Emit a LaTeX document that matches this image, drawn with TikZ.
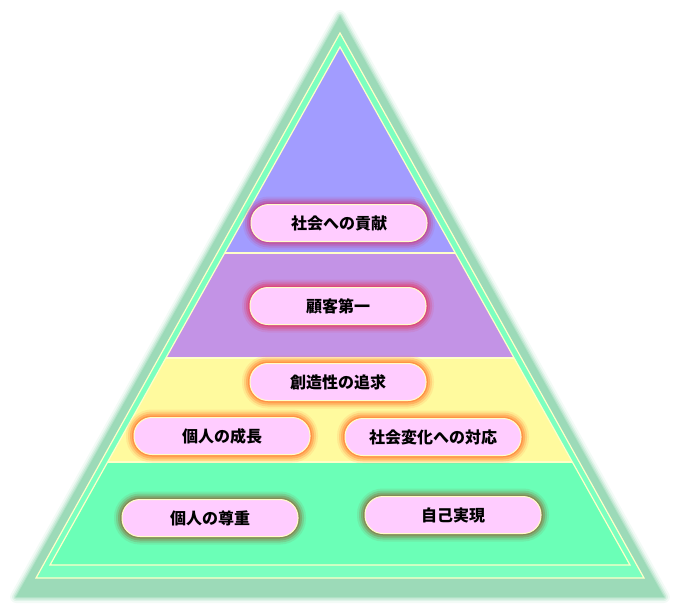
\documentclass[tikz,border=0pt]{standalone}
\usepackage{fontspec}
\newfontfamily\jp{Noto Sans CJK JP}
\definecolor{outerc}{HTML}{9CDAB8}
\definecolor{lightg}{HTML}{7CFFC0}
\definecolor{cream}{HTML}{FFFFC8}
\definecolor{layA}{HTML}{A29CFF}
\definecolor{layB}{HTML}{C393E6}
\definecolor{layC}{HTML}{FFFA9E}
\definecolor{layD}{HTML}{6BFFB7}
\definecolor{pinkc}{HTML}{FFCCFF}
\definecolor{glowA}{HTML}{C8408A}
\definecolor{glowB}{HTML}{E03A68}
\definecolor{glowC}{HTML}{FF7A30}
\definecolor{glowD}{HTML}{8A7040}
\begin{document}
\begin{tikzpicture}[x=1pt,y=-1pt,
  pill/.style={rounded corners=18pt, minimum width=176pt, minimum height=37pt,
    fill=pinkc, draw=cream, line width=1pt, text=black,
    font=\jp\bfseries\fontsize{16}{16}\selectfont},
  glow/.style={
    preaction={draw=#1,line width=16pt,opacity=0.12},
    preaction={draw=#1,line width=12pt,opacity=0.22},
    preaction={draw=#1,line width=8pt,opacity=0.35},
    preaction={draw=#1,line width=4pt,opacity=0.55}},
  sep/.style={draw=cream, line width=1.2pt}]
\useasboundingbox (0,0) rectangle (680,611);
% outer blurred triangle
\foreach \w/\o in {12/0.12,8/0.22,5/0.35,2/0.5}
  \draw[outerc, line width=\w pt, opacity=\o, line join=round] (340,16) -- (16,597) -- (664,597) -- cycle;
\fill[outerc] (340,16) -- (16,597) -- (664,597) -- cycle;
% second triangle
\fill[lightg] (340,33) -- (36,578) -- (644,578) -- cycle;
\draw[sep] (340,33) -- (36,578) -- (644,578) -- cycle;
% layers
\fill[layA] (340,47) -- (224.7,253) -- (455.3,253) -- cycle;
\fill[layB] (224.7,253) -- (165.9,358) -- (514.1,358) -- (455.3,253) -- cycle;
\fill[layC] (165.9,358) -- (107.7,462) -- (572.3,462) -- (514.1,358) -- cycle;
\fill[layD] (107.7,462) -- (50,565) -- (630,565) -- (572.3,462) -- cycle;
\draw[sep] (224.7,253) -- (455.3,253);
\draw[sep] (165.9,358) -- (514.1,358);
\draw[sep] (107.7,462) -- (572.3,462);
\draw[sep] (340,47) -- (50,565) -- (630,565) -- cycle;
% pills
\node[pill, glow=glowA] (p1) at (339,223) {社会への貢献};
\node[pill, glow=glowB] (p2) at (338,306) {顧客第一};
\node[pill, glow=glowC] (p3) at (338,382) {創造性の追求};
\node[pill, glow=glowC] (p4) at (222,436) {個人の成長};
\node[pill, glow=glowC] (p5) at (433,437) {社会変化への対応};
\node[pill, glow=glowD] (p6) at (210,518) {個人の尊重};
\node[pill, glow=glowD] (p7) at (453,515) {自己実現};
\end{tikzpicture}
\end{document}
